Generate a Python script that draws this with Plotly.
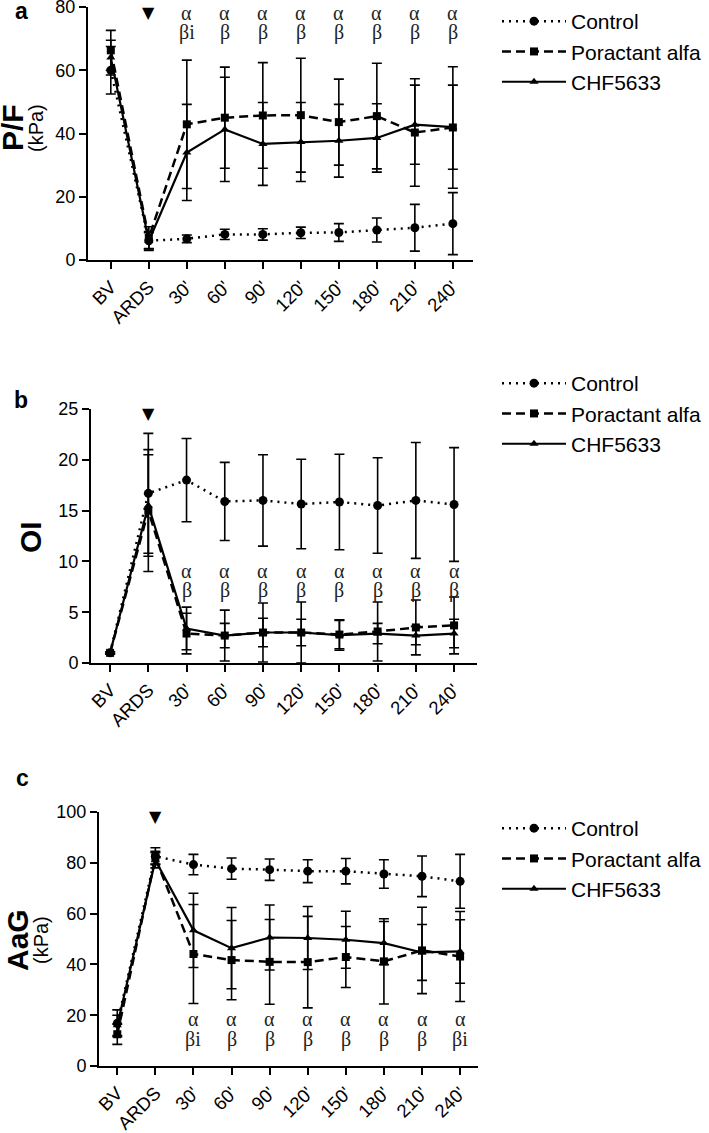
import plotly.graph_objects as go

W, H = 709, 1133

categories = ["BV", "ARDS", "30'", "60'", "90'", "120'", "150'", "180'", "210'", "240'"]

# Panel a: P/F (kPa)
pf_control = [60.0, 6.1, 6.7, 8.1, 8.1, 8.6, 8.7, 9.5, 10.2, 11.5]
pf_control_err = [7.5, 2.5, 1.2, 1.6, 1.8, 1.8, 2.8, 3.8, 7.4, 9.8]
pf_poractant = [66.3, 7.0, 42.9, 45.0, 45.7, 45.8, 43.6, 45.5, 40.3, 41.9]
pf_poractant_err = [6.3, 3.5, 20.3, 16.0, 16.7, 18.0, 13.6, 16.7, 17.0, 19.2]
pf_chf = [64.0, 6.0, 34.0, 41.3, 36.7, 37.3, 37.7, 38.6, 42.8, 42.0]
pf_chf_err = [5.5, 3.0, 15.2, 16.5, 13.1, 12.5, 11.5, 10.8, 12.5, 13.3]
pf_sig_alpha = ["α", "α", "α", "α", "α", "α", "α", "α"]
pf_sig_beta = ["βi", "β", "β", "β", "β", "β", "β", "β"]

# Panel b: OI
oi_control = [1.0, 16.7, 18.0, 15.9, 16.0, 15.65, 15.85, 15.5, 16.0, 15.6]
oi_control_err = [0.1, 5.9, 4.1, 3.85, 4.5, 4.4, 4.7, 4.7, 5.7, 5.6]
oi_poractant = [1.0, 15.0, 2.9, 2.7, 3.0, 3.0, 2.8, 3.1, 3.5, 3.7]
oi_poractant_err = [0.1, 6.0, 2.0, 2.5, 2.9, 3.0, 1.4, 2.9, 2.7, 2.8]
oi_chf = [1.0, 15.5, 3.4, 2.7, 3.0, 3.0, 2.75, 2.9, 2.7, 2.9]
oi_chf_err = [0.1, 5.0, 2.1, 1.2, 1.4, 1.3, 1.5, 1.0, 0.9, 1.4]
oi_sig_alpha = ["α", "α", "α", "α", "α", "α", "α", "α"]
oi_sig_beta = ["β", "β", "β", "β", "β", "β", "β", "β"]

# Panel c: AaG (kPa)
aag_control = [16.8, 82.6, 79.3, 77.7, 77.3, 76.7, 76.7, 75.6, 74.7, 72.7]
aag_control_err = [5.3, 3.3, 4.0, 4.2, 4.2, 4.5, 5.0, 5.6, 8.0, 10.6]
aag_poractant = [12.5, 82.0, 44.1, 41.7, 41.0, 40.9, 42.9, 41.2, 45.5, 43.1]
aag_poractant_err = [4.0, 2.5, 19.5, 15.6, 16.7, 18.0, 12.0, 16.8, 17.0, 17.7]
aag_chf = [16.0, 81.0, 53.4, 46.4, 50.6, 50.4, 49.7, 48.4, 44.7, 45.1]
aag_chf_err = [4.0, 3.0, 14.6, 16.0, 12.8, 12.4, 11.2, 8.5, 11.0, 12.5]
aag_sig_alpha = ["α", "α", "α", "α", "α", "α", "α", "α"]
aag_sig_beta = ["βi", "β", "β", "β", "β", "β", "β", "βi"]

series_names = ["Control", "Poractant alfa", "CHF5633"]

SANS = "Liberation Sans, Arial, sans-serif"
SERIF = "Liberation Serif, Times New Roman, serif"


def px_x(p):
    return p / W


def px_y(p):
    return 1 - p / H


fig = go.Figure()

panels = [
    dict(key="", data=[(pf_control, pf_control_err), (pf_poractant, pf_poractant_err), (pf_chf, pf_chf_err)],
         xdom=(88, 473), xrange=(-0.6, 9.53), ydom=(260, 7), yrange=(0, 80), ticks=[0, 20, 40, 60, 80],
         legend="legend", alpha=pf_sig_alpha, beta=pf_sig_beta, alpha_y=78.2, beta_y=71.8, arrow_y=78.2),
    dict(key="2", data=[(oi_control, oi_control_err), (oi_poractant, oi_poractant_err), (oi_chf, oi_chf_err)],
         xdom=(91, 477), xrange=(-0.5, 9.6), ydom=(663, 409), yrange=(0, 25), ticks=[0, 5, 10, 15, 20, 25],
         legend="legend2", alpha=oi_sig_alpha, beta=oi_sig_beta, alpha_y=9.1, beta_y=7.1, arrow_y=24.6),
    dict(key="3", data=[(aag_control, aag_control_err), (aag_poractant, aag_poractant_err), (aag_chf, aag_chf_err)],
         xdom=(99, 478), xrange=(-0.48, 9.47), ydom=(1066, 812), yrange=(0, 100), ticks=[0, 20, 40, 60, 80, 100],
         legend="legend3", alpha=aag_sig_alpha, beta=aag_sig_beta, alpha_y=18.6, beta_y=10.4, arrow_y=98.2),
]

styles = [
    dict(dash="2px,5px", symbol="circle", size=9, width=2.5),
    dict(dash="9px,5px", symbol="square", size=8, width=2.5),
    dict(dash="solid", symbol="triangle-up", size=8, width=2.2),
]

annotations = []
layout_axes = {}

for p in panels:
    k = p["key"]
    xa = "x" + k
    ya = "y" + k
    for (vals, errs), name, st in zip(p["data"], series_names, styles):
        fig.add_trace(go.Scatter(
            x=categories, y=vals, name=name, mode="lines+markers",
            xaxis=xa, yaxis=ya, legend=p["legend"], legendgroup=p["legend"] + name,
            line=dict(color="black", width=st["width"], dash=st["dash"]),
            marker=dict(symbol=st["symbol"], size=st["size"], color="black"),
            error_y=dict(type="data", array=errs, visible=True, color="black", thickness=1.6, width=5),
            cliponaxis=False,
        ))
    layout_axes["xaxis" + k] = dict(
        domain=[px_x(p["xdom"][0]), px_x(p["xdom"][1])], range=list(p["xrange"]),
        anchor=ya, type="category", categoryorder="array", categoryarray=categories,
        showline=True, linewidth=2, linecolor="black", ticks="outside", ticklen=7, tickwidth=2,
        tickcolor="black", tickangle=-45, tickfont=dict(family=SANS, size=18.5, color="black"),
        showgrid=False, zeroline=False, fixedrange=True, automargin=False, ticklabeloverflow="allow",
    )
    layout_axes["yaxis" + k] = dict(
        domain=[px_y(p["ydom"][0]), px_y(p["ydom"][1])], range=list(p["yrange"]),
        anchor=xa, tickvals=p["ticks"],
        showline=True, linewidth=2, linecolor="black", ticks="outside", ticklen=7, tickwidth=2,
        tickcolor="black", tickfont=dict(family=SANS, size=18, color="black"),
        showgrid=False, zeroline=False, fixedrange=True, automargin=False, ticklabeloverflow="allow",
    )
    # ARDS arrow
    annotations.append(dict(x="ARDS", y=p["arrow_y"], xref=xa, yref=ya, text="▼", showarrow=False,
                            xanchor="center", yanchor="middle",
                            font=dict(family="DejaVu Sans", size=16, color="black")))
    for cat, a, b in zip(categories[2:], p["alpha"], p["beta"]):
        annotations.append(dict(x=cat, y=p["alpha_y"], xref=xa, yref=ya, text=a, showarrow=False,
                                xanchor="center", yanchor="middle",
                                font=dict(family=SERIF, size=20, color="#222")))
        annotations.append(dict(x=cat, y=p["beta_y"], xref=xa, yref=ya, text=b, showarrow=False,
                                xanchor="center", yanchor="middle",
                                font=dict(family=SERIF, size=20, color="#222")))

# Panel letters and axis titles
for letter, xpx, ypx in [("a", 21, 11), ("b", 21, 400), ("c", 22, 778)]:
    annotations.append(dict(x=px_x(xpx), y=px_y(ypx), xref="paper", yref="paper", text="<b>" + letter + "</b>",
                            xanchor="center", yanchor="middle",
                            showarrow=False, font=dict(family=SANS, size=23, color="black")))

annotations += [
    dict(x=px_x(13), y=px_y(128), xref="paper", yref="paper", text="<b>P/F</b>", textangle=-90,
         xanchor="center", yanchor="middle",
         showarrow=False, font=dict(family=SANS, size=30, color="black")),
    dict(x=px_x(36), y=px_y(128), xref="paper", yref="paper", text="(kPa)", textangle=-90,
         xanchor="center", yanchor="middle",
         showarrow=False, font=dict(family=SANS, size=20, color="black")),
    dict(x=px_x(30), y=px_y(537), xref="paper", yref="paper", text="<b>OI</b>", textangle=-90,
         xanchor="center", yanchor="middle",
         showarrow=False, font=dict(family=SANS, size=30, color="black")),
    dict(x=px_x(17), y=px_y(940), xref="paper", yref="paper", text="<b>AaG</b>", textangle=-90,
         xanchor="center", yanchor="middle",
         showarrow=False, font=dict(family=SANS, size=30, color="black")),
    dict(x=px_x(41), y=px_y(940), xref="paper", yref="paper", text="(kPa)", textangle=-90,
         xanchor="center", yanchor="middle",
         showarrow=False, font=dict(family=SANS, size=20, color="black")),
]

legend_common = dict(xanchor="left", yanchor="top", bgcolor="rgba(0,0,0,0)", borderwidth=0,
                     font=dict(family=SANS, size=21, color="black"), tracegroupgap=0,
                     itemwidth=64, itemclick=False)

fig.update_layout(
    width=W, height=H,
    margin=dict(l=0, r=0, t=0, b=0, autoexpand=False),
    paper_bgcolor="white", plot_bgcolor="white",
    showlegend=True,
    legend=dict(x=px_x(497), y=px_y(1), **legend_common),
    legend2=dict(x=px_x(497), y=px_y(363), **legend_common),
    legend3=dict(x=px_x(497), y=px_y(808), **legend_common),
    annotations=annotations,
    **layout_axes,
)

fig.write_html("out.html", config={"displayModeBar": False},
               post_script="document.body.style.margin='0';")
